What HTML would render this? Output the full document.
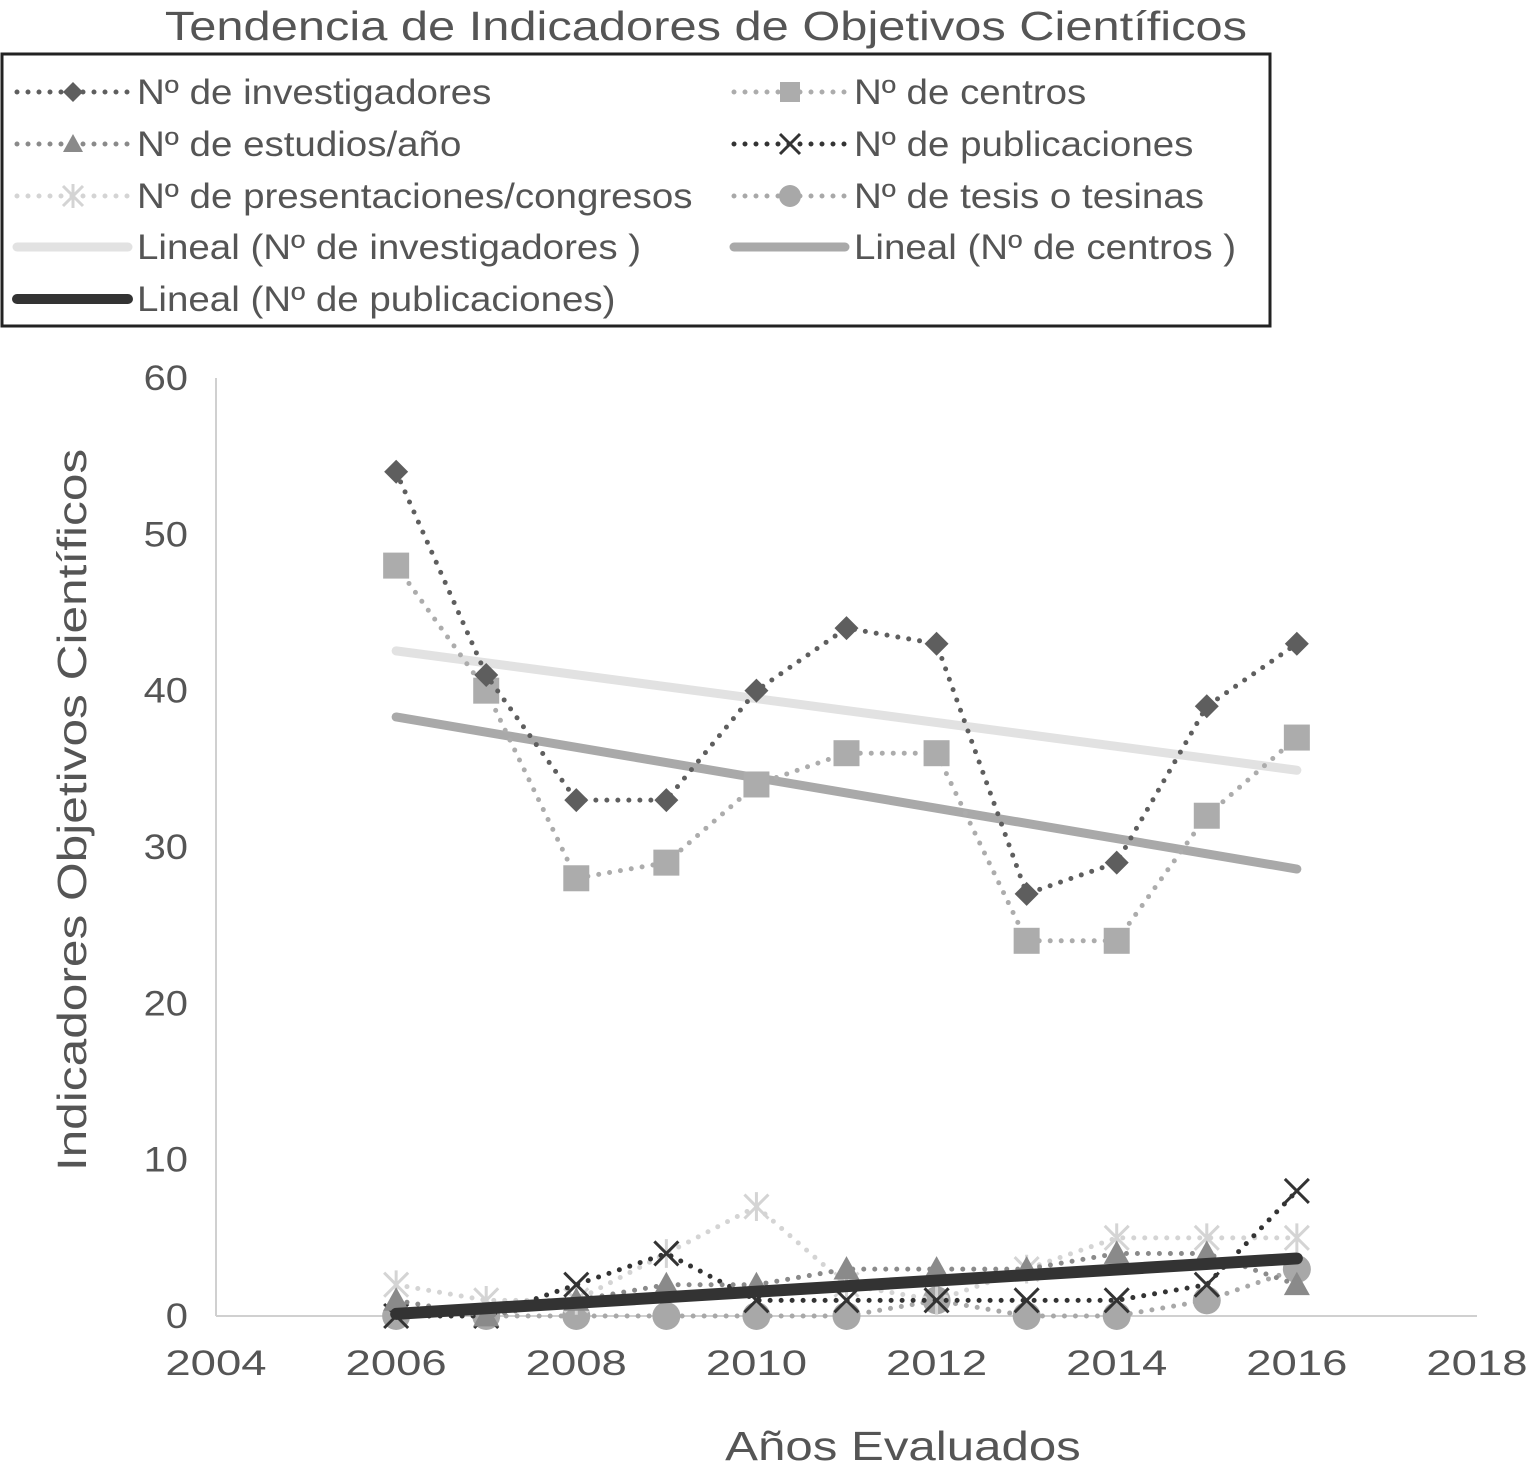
<!DOCTYPE html>
<html><head><meta charset="utf-8"><style>
body{margin:0;background:#fff;}
svg{display:block;font-family:"Liberation Sans",sans-serif;}
</style></head><body>
<svg id="c" width="1537" height="1472" viewBox="0 0 1537 1472">
<text class="st" data-f="1.19" x="706" y="40" text-anchor="middle" font-size="41" fill="#555">Tendencia de Indicadores de Objetivos Científicos</text>
<rect x="2" y="54" width="1268" height="272" fill="#fff" stroke="#222" stroke-width="3"/>
<g id="legend"></g>
<line x1="216" y1="378" x2="216" y2="1316" stroke="#d0d0d0" stroke-width="2"/>
<line x1="216" y1="1316" x2="1477" y2="1316" stroke="#d0d0d0" stroke-width="2"/>
<g id="yt"></g>
<g id="xt"></g>
<g id="plot"></g>
<text class="st" data-f="1.20" x="903" y="1460" text-anchor="middle" font-size="41" fill="#555">Años Evaluados</text>
<text class="st" data-f="1.21" transform="translate(86,810) rotate(-90)" text-anchor="middle" font-size="41" fill="#555">Indicadores  Objetivos Científicos</text>
</svg>
<script>
const years=[2006,2007,2008,2009,2010,2011,2012,2013,2014,2015,2016];
const investigadores=[54,41,33,33,40,44,43,27,29,39,43];
const centros=[48,40,28,29,34,36,36,24,24,32,37];
const estudios=[1,0,1,2,2,3,3,3,4,4,2];
const publicaciones=[0,0,2,4,1,1,1,1,1,2,8];
const presentaciones=[2,1,1,4,7,2,1,3,5,5,5];
const tesis=[0,0,0,0,0,0,1,0,0,1,3];
const yTicks=[0,10,20,30,40,50,60];
const xTicks=[2004,2006,2008,2010,2012,2014,2016,2018];
const NS='http://www.w3.org/2000/svg';
const X=v=>216+(v-2004)*(1477-216)/14;
const Y=v=>1316-v*(1316-378)/60;
function mk(tag,attrs,parent){const e=document.createElementNS(NS,tag);for(const k in attrs)e.setAttribute(k,attrs[k]);parent.appendChild(e);return e;}
function stretch(el,f){const w=el.getComputedTextLength();el.setAttribute('textLength',(w*f).toFixed(1));el.setAttribute('lengthAdjust','spacingAndGlyphs');}
const yt=document.getElementById('yt'),xt=document.getElementById('xt'),plot=document.getElementById('plot'),lg=document.getElementById('legend');
yTicks.forEach(v=>{const t=mk('text',{x:188,y:Y(v)+12,'text-anchor':'end','font-size':35,fill:'#555'},yt);t.textContent=v;


stretch(t,1.14);});
xTicks.forEach(v=>{const t=mk('text',{x:X(v),y:1375,'text-anchor':'middle','font-size':35,fill:'#555'},xt);t.textContent=v;


stretch(t,1.3);});
function marker(type,cx,cy,color,p,s){
  let e;
  if(type==='diamond'){e=mk('polygon',{points:`${cx},${cy-s} ${cx+s},${cy} ${cx},${cy+s} ${cx-s},${cy}`,fill:color},p);}
  else if(type==='square'){e=mk('rect',{x:cx-s,y:cy-s,width:2*s,height:2*s,fill:color},p);}
  else if(type==='triangle'){e=mk('polygon',{points:`${cx},${cy-s} ${cx+s},${cy+s*0.8} ${cx-s},${cy+s*0.8}`,fill:color},p);}
  else if(type==='circle'){e=mk('circle',{cx:cx,cy:cy,r:s,fill:color},p);}
  else if(type==='x'){e=mk('path',{d:`M${cx-s},${cy-s}L${cx+s},${cy+s}M${cx+s},${cy-s}L${cx-s},${cy+s}`,stroke:color,'stroke-width':3,fill:'none'},p);}
  else if(type==='star'){e=mk('path',{d:`M${cx-s},${cy-s}L${cx+s},${cy+s}M${cx+s},${cy-s}L${cx-s},${cy+s}M${cx},${cy-s*1.2}L${cx},${cy+s*1.2}`,stroke:color,'stroke-width':3,fill:'none'},p);}
  return e;
}
const series=[
 {name:'investigadores',data:investigadores,color:'#5e5e5e',m:'diamond',s:12},
 {name:'centros',data:centros,color:'#acacac',m:'square',s:13},
 {name:'estudios',data:estudios,color:'#8a8a8a',m:'triangle',s:13},
 {name:'publicaciones',data:publicaciones,color:'#333',m:'x',s:12},
 {name:'presentaciones',data:presentaciones,color:'#d4d4d4',m:'star',s:12},
 {name:'tesis',data:tesis,color:'#a8a8a8',m:'circle',s:14}
];
function fit(d){const n=d.length;const mx=years.reduce((a,b)=>a+b,0)/n,my=d.reduce((a,b)=>a+b,0)/n;let sxy=0,sxx=0;years.forEach((x,i)=>{sxy+=(x-mx)*(d[i]-my);sxx+=(x-mx)*(x-mx);});const b=sxy/sxx;return x=>my+b*(x-mx);}
[[investigadores,'#e2e2e2','trend-investigadores'],[centros,'#a9a9a9','trend-centros']].forEach(([d,c,n])=>{const f=fit(d);const l=mk('line',{x1:X(2006),y1:Y(f(2006)),x2:X(2016),y2:Y(f(2016)),stroke:c,'stroke-width':9,'stroke-linecap':'round'},plot);

});
series.slice().reverse().forEach(se=>{
 const g=mk('g',{},plot);
 
 
 const pts=se.data.map((v,i)=>X(years[i])+','+Y(v)).join(' ');
 mk('polyline',{points:pts,fill:'none',stroke:se.color,'stroke-width':5,'stroke-dasharray':'0 11','stroke-linecap':'round'},g);
 se.data.forEach((v,i)=>{const m=marker(se.m,X(years[i]),Y(v),se.color,g,se.s);
 
 });
});
{const f=fit(publicaciones);const l=mk('line',{x1:X(2006),y1:Y(f(2006)),x2:X(2016),y2:Y(f(2016)),stroke:'#333','stroke-width':12,'stroke-linecap':'round'},plot);

}
const leg=[
 [15,92,'Nº  de investigadores',series[0]],[732,92,'Nº de centros',series[1]],
 [15,144,'Nº de estudios/año',series[2]],[732,144,'Nº de publicaciones',series[3]],
 [15,196,'Nº de presentaciones/congresos',series[4]],[732,196,'Nº de tesis o tesinas',series[5]],
 [15,247,'Lineal (Nº  de investigadores )',{line:'#e2e2e2',w:9}],[732,247,'Lineal (Nº de centros )',{line:'#a9a9a9',w:9}],
 [15,299,'Lineal (Nº de publicaciones)',{line:'#333',w:10}]
];
leg.forEach(([x,y,label,s])=>{
 const g=mk('g',{},lg);
 
 
 if(s.line){mk('line',{x1:x+2,y1:y,x2:x+113,y2:y,stroke:s.line,'stroke-width':s.w,'stroke-linecap':'round'},g);}
 else{mk('line',{x1:x+2,y1:y,x2:x+113,y2:y,stroke:s.color,'stroke-width':5,'stroke-dasharray':'0 11','stroke-linecap':'round'},g);marker(s.m,x+58,y,s.color,g,s.m==='circle'?11:10);}
 const t=mk('text',{x:x+122,y:y+12,'font-size':35,fill:'#555'},g);t.textContent=label;
 stretch(t,1.10);
});
document.querySelectorAll('.st').forEach(t=>stretch(t,+t.getAttribute('data-f')));
</script>
</body></html>
